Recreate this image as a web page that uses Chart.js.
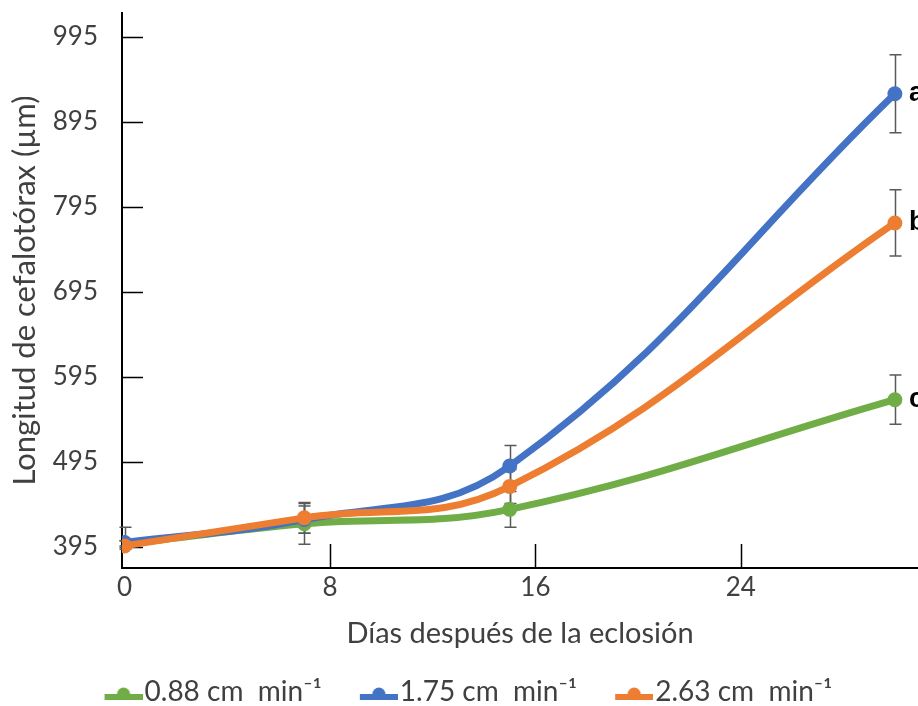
<!DOCTYPE html>
<html><head><meta charset="utf-8">
<script src="https://cdn.jsdelivr.net/npm/chart.js@4.4.1/dist/chart.umd.min.js"></script>
<style>html,body{margin:0;padding:0;background:#fff;overflow:hidden}
#wrap{width:918px;height:706px;position:relative}</style>
</head><body><div id="wrap"><canvas id="c" width="918" height="706"></canvas></div>
<script>
const days = [0, 7, 15, 30];
const seriesLabels = ['0.88 cm  min⁻¹', '1.75 cm  min⁻¹', '2.63 cm  min⁻¹'];
const greenVals = [398, 422, 439, 568];
const blueVals = [400, 427, 490, 928];
const orangeVals = [396, 429, 466, 776];
const greenErrUp = [4, 24, 21, 29];
const greenErrDown = [4, 24, 21, 29];
const blueErrUp = [18, 16, 24, 46];
const blueErrDown = [4, 16, 24, 46];
const orangeErrUp = [6, 18, 20, 39];
const orangeErrDown = [4, 18, 20, 39];
const endLabels = ['c', 'a', 'b'];
const yTicks = [395, 495, 595, 695, 795, 895, 995];
const xTicks = [0, 8, 16, 24];
const yTitle = 'Longitud de cefalotórax (µm)';
const xTitle = 'Días después de la eclosión';

const colors = ['#70AD47', '#4472C4', '#ED7D31'];
const allVals = [greenVals, blueVals, orangeVals];
const allUp = [greenErrUp, blueErrUp, orangeErrUp];
const allDown = [greenErrDown, blueErrDown, orangeErrDown];
const TEXT = '#404040';
const FONT = 'Lato';
const PAD_B = -10;
const LEG_S = 45;

function makeMarker(color) {
  const W = LEG_S + 24, H = 30;
  const c = document.createElement('canvas');
  c.width = W; c.height = H;
  const g = c.getContext('2d');
  g.fillStyle = color;
  const x0 = LEG_S - 14, x1 = LEG_S + 24;
  g.save();
  g.beginPath(); g.rect(x0, 0, x1 - x0, 23); g.clip();
  g.beginPath(); g.arc((x0 + x1) / 2, 17, 6.5, 0, Math.PI * 2); g.fill();
  g.restore();
  g.fillRect(x0, 17, x1 - x0, 6);
  return c;
}
const markers = colors.map(makeMarker);

const datasets = allVals.map((vals, i) => ({
  label: seriesLabels[i],
  data: days.map((d, j) => ({x: d, y: vals[j]})),
  borderColor: colors[i],
  backgroundColor: colors[i],
  pointBackgroundColor: colors[i],
  pointBorderColor: colors[i],
  pointBorderWidth: 0,
  pointRadius: 7.5,
  borderWidth: 7,
  tension: 0.4,
  fill: false,
  order: [2, 1, 0][i]
}));

const errorBars = {
  id: 'errorBars',
  beforeDatasetsDraw(chart) {
    const ctx = chart.ctx, ys = chart.scales.y;
    ctx.save();
    ctx.strokeStyle = '#595959';
    ctx.lineWidth = 1.5;
    chart.data.datasets.forEach((ds, i) => {
      const meta = chart.getDatasetMeta(i);
      meta.data.forEach((pt, j) => {
        const v = allVals[i][j];
        const t = ys.getPixelForValue(v + allUp[i][j]), b = ys.getPixelForValue(v - allDown[i][j]);
        const x = Math.round(pt.x) + 0.5;
        ctx.beginPath();
        ctx.moveTo(x, t); ctx.lineTo(x, b);
        ctx.moveTo(x - 6, t); ctx.lineTo(x + 6, t);
        ctx.moveTo(x - 6, b); ctx.lineTo(x + 6, b);
        ctx.stroke();
      });
    });
    ctx.restore();
  },
  afterDatasetsDraw(chart) {
    const ctx = chart.ctx;
    ctx.save();
    ctx.fillStyle = '#000';
    ctx.font = 'bold 27px "Liberation Sans", Arial, sans-serif';
    ctx.textBaseline = 'middle';
    ctx.textAlign = 'left';
    chart.data.datasets.forEach((ds, i) => {
      const meta = chart.getDatasetMeta(i);
      const pt = meta.data[meta.data.length - 1];
      ctx.fillText(endLabels[i], pt.x + 14, pt.y);
    });
    ctx.restore();
  }
};

const innerTicks = {
  id: 'innerTicks',
  beforeDatasetsDraw(chart) {
    const ctx = chart.ctx, xs = chart.scales.x, ys = chart.scales.y, a = chart.chartArea;
    ctx.save();
    ctx.strokeStyle = '#000';
    ctx.lineWidth = 1.5;
    ctx.beginPath();
    ys.ticks.forEach(t => {
      const y = Math.round(ys.getPixelForValue(t.value)) + 0.5;
      ctx.moveTo(a.left, y); ctx.lineTo(a.left + 21, y);
    });
    xs.ticks.forEach(t => {
      if (t.value === 0) return;
      const x = Math.round(xs.getPixelForValue(t.value)) + 0.5;
      ctx.moveTo(x, a.bottom); ctx.lineTo(x, a.bottom - 24);
    });
    ctx.stroke();
    ctx.restore();
  }
};

new Chart(document.getElementById('c'), {
  type: 'line',
  data: {datasets},
  plugins: [errorBars, innerTicks],
  options: {
    responsive: false,
    animation: false,
    devicePixelRatio: 1,
    layout: {autoPadding: false, padding: {top: 13, right: 0, left: 0, bottom: PAD_B}},
    plugins: {
      tooltip: {enabled: false},
      legend: {
        position: 'bottom',
        labels: {
          usePointStyle: true,
          pointStyleWidth: LEG_S,
          color: TEXT,
          font: {family: FONT, size: 28},
          padding: 19,
          sort: (a, b) => a.datasetIndex - b.datasetIndex,
          generateLabels(chart) {
            const items = Chart.defaults.plugins.legend.labels.generateLabels(chart);
            items.forEach(it => { it.pointStyle = markers[it.datasetIndex]; });
            return items;
          }
        }
      }
    },
    scales: {
      x: {
        type: 'linear', min: -0.1, max: 30.9,
        afterBuildTicks: s => { s.ticks = xTicks.map(v => ({value: v})); },
        afterFit: s => { s.height = s.chart.height - PAD_B - 568 - s.chart.legend.height; s.paddingLeft = 0; s.paddingRight = 0; },
        grid: {display: false, drawTicks: false},
        border: {display: true, color: '#000', width: 2},
        ticks: {color: TEXT, font: {family: FONT, size: 26}, padding: 4, maxRotation: 0, autoSkip: false},
        title: {display: true, text: xTitle, color: TEXT, font: {family: FONT, size: 29}, padding: {top: 0, bottom: 8}}
      },
      y: {
        type: 'linear', min: 370, max: 1023,
        afterBuildTicks: s => { s.ticks = yTicks.map(v => ({value: v})); },
        afterFit: s => { s.width = 122; s.paddingTop = 0; s.paddingBottom = 0; },
        grid: {display: false, drawTicks: false},
        border: {display: true, color: '#000', width: 2},
        ticks: {color: TEXT, font: {family: FONT, size: 26}, padding: 24, autoSkip: false},
        title: {display: true, text: yTitle, color: TEXT, font: {family: FONT, size: 31}, padding: {top: 6, bottom: 0}}
      }
    }
  }
});
</script>
</body></html>
